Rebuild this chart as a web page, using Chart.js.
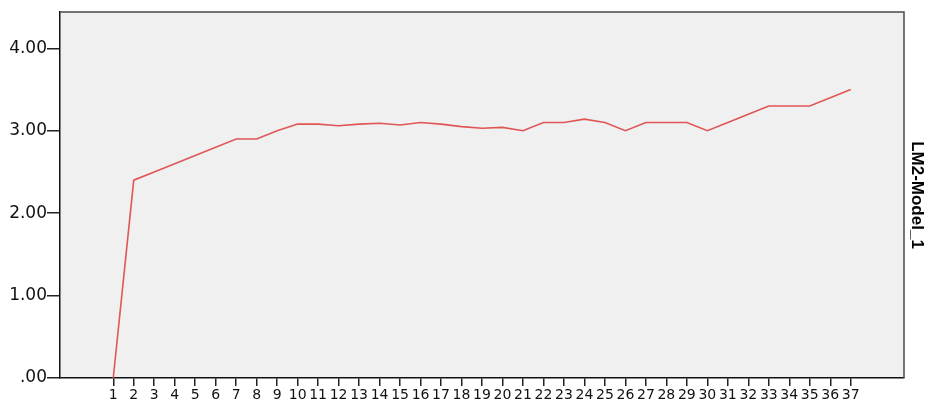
<!DOCTYPE html>
<html>
<head>
<meta charset="utf-8">
<script src="https://cdn.jsdelivr.net/npm/chart.js@4/dist/chart.umd.min.js"></script>
<style>
  html, body { margin: 0; padding: 0; background: #fff; }
  #wrap { width: 933px; height: 403px; }
</style>
</head>
<body>
<div id="wrap"><canvas id="chart" width="933" height="403"></canvas></div>
<script>
const categories = [1, 2, 3, 4, 5, 6, 7, 8, 9, 10, 11, 12, 13, 14, 15, 16, 17, 18, 19,
    20, 21, 22, 23, 24, 25, 26, 27, 28, 29, 30, 31, 32, 33, 34, 35, 36, 37];
const modelValues = [0.00, 2.40, 2.50, 2.60, 2.70, 2.80, 2.90, 2.90, 3.00, 3.08, 3.08, 3.06,
    3.08, 3.09, 3.07, 3.10, 3.08, 3.05, 3.03, 3.04, 3.00, 3.10, 3.10, 3.14, 3.10, 3.00,
    3.10, 3.10, 3.10, 3.00, 3.10, 3.20, 3.30, 3.30, 3.30, 3.40, 3.50];
const yTicks = [0, 1, 2, 3, 4];
const seriesName = 'LM2-Model_1';

const fmtY = v => v === 0 ? '.00' : v.toFixed(2);

// plot background + top/right frame
const frame = {
    id: 'frame',
    beforeDraw(chart) {
        const { ctx, chartArea: a } = chart;
        ctx.save();
        ctx.fillStyle = '#f0f0f0';
        ctx.fillRect(a.left, a.top, a.right - a.left, a.bottom - a.top);
        ctx.restore();
    },
    afterDatasetsDraw(chart) {
        const { ctx, chartArea: a } = chart;
        ctx.save();
        ctx.strokeStyle = '#4a4a4a';
        ctx.lineWidth = 1.5;
        ctx.beginPath();
        ctx.moveTo(a.left, a.top);
        ctx.lineTo(a.right, a.top);
        ctx.lineTo(a.right, a.bottom);
        ctx.stroke();
        ctx.restore();
    }
};

new Chart(document.getElementById('chart'), {
    type: 'line',
    data: {
        datasets: [{
            label: seriesName,
            data: categories.map((c, i) => ({ x: c, y: modelValues[i] })),
            borderColor: '#e05656',
            borderWidth: 1.6,
            pointRadius: 0,
            tension: 0,
            fill: false,
            clip: false
        }]
    },
    options: {
        responsive: false,
        animation: false,
        layout: { padding: { top: 12, left: 0, right: 0, bottom: 0 } },
        plugins: { legend: { display: false }, tooltip: { enabled: false } },
        scales: {
            x: {
                type: 'linear',
                min: -1.6,
                max: 39.6,
                afterBuildTicks: s => { s.ticks = categories.map(v => ({ value: v })); },
                afterFit: s => { s.height = 25; },
                grid: { drawOnChartArea: false, drawTicks: true, tickLength: 8, color: '#222', lineWidth: 1.5 },
                border: { display: true, color: '#111', width: 1.5 },
                ticks: {
                    color: '#111',
                    font: { family: 'DejaVu Sans', size: 14 },
                    padding: 1,
                    maxRotation: 0,
                    autoSkip: false,
                    callback: v => String(v)
                }
            },
            y: {
                min: 0,
                max: 4.44,
                afterBuildTicks: s => { s.ticks = yTicks.map(v => ({ value: v })); },
                afterFit: s => { s.width = 60; },
                grid: { drawOnChartArea: false, drawTicks: true, tickLength: 13, color: '#222', lineWidth: 1.5 },
                border: { display: true, color: '#111', width: 1.5 },
                ticks: {
                    color: '#111',
                    font: { family: 'DejaVu Sans', size: 17 },
                    padding: 0,
                    callback: v => fmtY(v)
                }
            },
            y2: {
                position: 'right',
                min: 0,
                max: 4.44,
                afterFit: s => { s.width = 29; },
                grid: { display: false },
                border: { display: false },
                ticks: { display: false },
                title: {
                    display: true,
                    text: seriesName,
                    color: '#000',
                    font: { family: 'Liberation Sans, Arial', size: 17, weight: 'bold' },
                    padding: { top: 6, bottom: 0 }
                }
            }
        }
    },
    plugins: [frame]
});
</script>
</body>
</html>
